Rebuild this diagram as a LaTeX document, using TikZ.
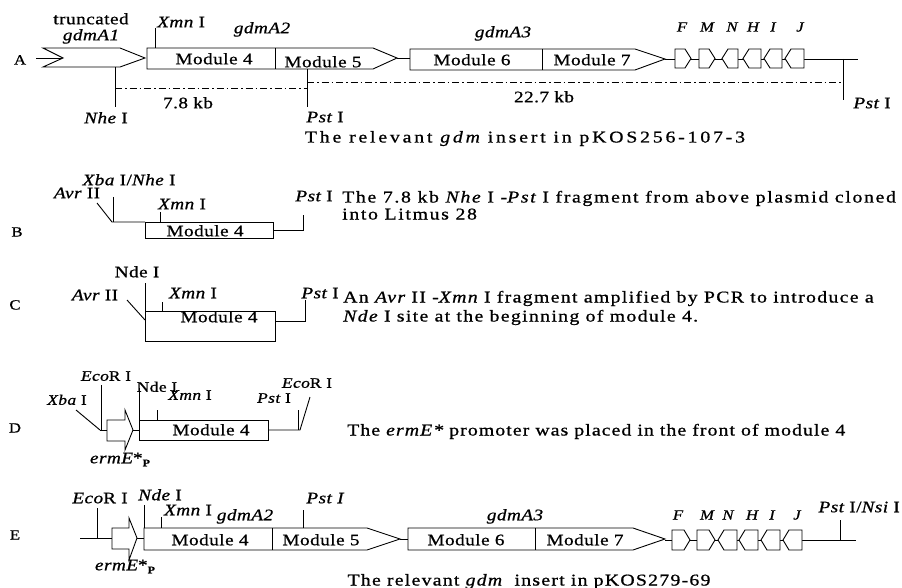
\documentclass[tikz,border=0pt]{standalone}
\usepackage{fontspec}
\setmainfont{Liberation Serif}
\newfontfamily\descfont[FakeStretch=1.2,LetterSpace=10,FakeBold=0.8]{Liberation Serif}
\newfontfamily\descCfont[FakeStretch=1.2,LetterSpace=8,FakeBold=0.8]{Liberation Serif}
\newfontfamily\descDfont[FakeStretch=1.2,LetterSpace=6.5,FakeBold=0.8]{Liberation Serif}
\newfontfamily\capAfont[FakeStretch=1.2,LetterSpace=17,FakeBold=0.8]{Liberation Serif}
\newfontfamily\capEfont[FakeStretch=1.2,LetterSpace=7.5,FakeBold=0.8]{Liberation Serif}
\newfontfamily\labfont[FakeStretch=1.2,LetterSpace=3,FakeBold=0.8]{Liberation Serif}
\newcommand\geneRt[4]{\draw[ln,fill=white] (#1,#3) -- ({#2-6},#3) -- (#2,{(#3+#4)/2}) -- ({#2-6},#4) -- (#1,#4) -- cycle;}
\newcommand\geneLt[4]{\draw[ln,fill=white] (#1,{(#3+#4)/2}) -- ({#1+6},#3) -- (#2,#3) -- (#2,#4) -- ({#1+6},#4) -- cycle;}
\newcommand\ermP{{\itshape ermE}*\raisebox{-3pt}{\fontsize{10}{10}\selectfont\bfseries P}}
\tikzset{
  ln/.style={line width=0.9pt},
  dd/.style={line width=0.9pt, dash pattern=on 7pt off 3pt on 1.5pt off 3pt},
  lab/.style={font=\labfont\fontsize{16}{18}\selectfont, inner sep=0pt, text height=10.5pt, text depth=0pt},
  slab/.style={font=\labfont\fontsize{14.5}{16}\selectfont, inner sep=0pt, text height=9.5pt, text depth=0pt},
  modl/.style={font=\labfont\fontsize{16}{18}\selectfont, inner sep=0pt, text height=10.5pt, text depth=0pt},
  gn/.style={font=\labfont\itshape\fontsize{14}{16}\selectfont, inner sep=0pt, text height=9pt, text depth=0pt},
  rowlab/.style={font=\labfont\fontsize{14}{16}\selectfont, inner sep=0pt, text height=9pt, text depth=0pt},
  dsc/.style={font=\descfont\fontsize{16.5}{18}\selectfont, inner sep=0pt, anchor=west, text height=11pt, text depth=0pt},
}
\begin{document}
\begin{tikzpicture}[x=1pt,y=-1pt]
\useasboundingbox (0,0) rectangle (902,588);
\fill[white] (0,0) rectangle (902,588);

% ================= Row A =================
\node[rowlab] (rA) at (20,60) {A};
\draw[ln] (36,58) -- (63,58);
\draw[ln,fill=white] (43,48) -- (120,48) -- (145,58) -- (120,67) -- (43,67) -- (63,58) -- cycle;
\node[lab] (trunc) at (91,19) {truncated};
\node[lab] (gA1) at (91,35) {\itshape gdmA1};
\draw[ln] (397,58) -- (410,58);
\draw[ln] (665,59) -- (858,59);
\draw[ln,fill=white] (147,48) -- (373,48) -- (397,58) -- (373,69) -- (147,69) -- cycle;
\draw[ln] (275,48) -- (275,69);
\node[modl] (a4) at (214,59) {Module 4};
\node[modl] (a5) at (323,62) {Module 5};
\draw[ln,fill=white] (410,49) -- (635,49) -- (665,59) -- (635,70) -- (410,70) -- cycle;
\draw[ln] (542,49) -- (542,70);
\node[modl] (a6) at (472,60) {Module 6};
\node[modl] (a7) at (592,60) {Module 7};
\node[lab] (gA2) at (262,28) {\itshape gdmA2};
\node[lab] (gA3) at (503,32) {\itshape gdmA3};
\geneRt{675}{691}{49}{68}
\geneRt{699}{715}{49}{68}
\geneLt{722}{738}{49}{68}
\geneLt{743}{761}{49}{68}
\geneLt{764}{782}{49}{68}
\geneLt{785}{804}{49}{68}
\node[gn] at (682,27) {F};
\node[gn] at (707,27) {M};
\node[gn] at (732,27) {N};
\node[gn] at (753,27) {H};
\node[gn] at (773,27) {I};
\node[gn] at (800,27) {J};
\draw[ln] (155,28) -- (155,48);
\node[lab,anchor=west] (xmnA) at (157,22) {{\itshape Xmn} I};
\draw[ln] (115,67) -- (115,107);
\node[lab] (nheA) at (106,118) {{\itshape Nhe} I};
\draw[ln] (307,69) -- (307,107);
\node[lab] (pstA) at (325,117) {{\itshape Pst} I};
\draw[ln] (843,59) -- (843,100);
\node[lab] (pstA2) at (872,103) {{\itshape Pst} I};
\draw[dd] (115,88) -- (307,88);
\node[lab] (kb78) at (188,103) {7.8 kb};
\draw[dd] (307,82) -- (842,82);
\node[lab] (kb227) at (544,97) {22.7 kb};
\node[dsc,anchor=center,font=\capAfont\fontsize{16.5}{18}\selectfont] (capA) at (525,137) {The relevant {\itshape gdm} insert in pKOS256-107-3};

% ================= Row B =================
\node[rowlab] (rB) at (17,232) {B};
\draw[ln] (97,203) -- (112,222) -- (145,222);
\draw[ln] (113,197) -- (113,222);
\draw[ln] (145,222) rectangle (273,238);
\draw[ln] (160,212) -- (160,222);
\draw[ln] (273,230) -- (303,230) -- (303,215);
\node[modl] (b4) at (205,231) {Module 4};
\node[lab] (xbaB) at (129,180) {{\itshape Xba} I/{\itshape Nhe} I};
\node[lab] (avrB) at (77,193) {{\itshape Avr} II};
\node[lab] (xmnB) at (182,204) {{\itshape Xmn} I};
\node[lab] (pstB) at (314,196) {{\itshape Pst} I};
\node[dsc] (dB1) at (342,197) {The 7.8 kb {\itshape Nhe} I -{\itshape Pst} I fragment from above plasmid cloned};
\node[dsc] (dB2) at (342,214) {into Litmus 28};

% ================= Row C =================
\node[rowlab] (rC) at (15,305) {C};
\draw[ln] (145,283) -- (145,311);
\draw[ln] (127,300) -- (145,320);
\draw[ln] (145,311) rectangle (275,341);
\draw[ln] (162,302) -- (162,311);
\draw[ln] (275,321) -- (305,321) -- (305,300);
\node[modl] (c4) at (219,317) {Module 4};
\node[lab] (ndeC) at (137,272) {Nde I};
\node[lab] (avrC) at (95,295) {{\itshape Avr} II};
\node[lab] (xmnC) at (193,293) {{\itshape Xmn} I};
\node[lab] (pstC) at (320,293) {{\itshape Pst} I};
\node[dsc,font=\descCfont\fontsize{16.5}{18}\selectfont] (dC1) at (343,297) {An {\itshape Avr} II -{\itshape Xmn} I fragment amplified by PCR to introduce a};
\node[dsc,font=\descCfont\fontsize{16.5}{18}\selectfont] (dC2) at (343,316) {{\itshape Nde} I site at the beginning of module 4.};

% ================= Row D =================
\node[rowlab] (rD) at (15,428) {D};
\draw[ln] (76,410) -- (100,430);
\draw[ln] (101,385) -- (101,430);
\draw[ln] (100,430) -- (107,430);
\draw[ln,fill=white] (107,420) -- (125,420) -- (125,410) -- (133,430) -- (125,450) -- (125,441) -- (107,441) -- cycle;
\draw[ln] (133,430) -- (139,430);
\draw[ln] (139,388) -- (139,420);
\draw[ln] (157,410) -- (157,420);
\draw[ln] (139,420) rectangle (268,440);
\node[modl] (d4) at (211,430) {Module 4};
\draw[ln] (268,430) -- (300,430) -- (310,397);
\draw[ln] (298,410) -- (298,430);
\node[slab] (xbaD) at (67,400) {{\itshape Xba} I};
\node[slab] (ecoD1) at (106,376) {{\itshape Eco}R I};
\node[slab] (ndeD) at (157,387) {Nde I};
\node[slab] (xmnD) at (190,395) {{\itshape Xmn} I};
\node[slab] (pstD) at (274,398) {{\itshape Pst} I};
\node[slab] (ecoD2) at (307,383) {{\itshape Eco}R I};
\node[lab] (ermD) at (120,458) {\ermP};
\node[dsc,font=\descDfont\fontsize{16.5}{18}\selectfont] (dD) at (347,430) {The {\itshape ermE*} promoter was placed in the front of module 4};

% ================= Row E =================
\node[rowlab] (rE) at (15,535) {E};
\draw[ln] (80,538) -- (112,538);
\draw[ln] (97,508) -- (97,538);
\draw[ln,fill=white] (112,528) -- (129,528) -- (129,518) -- (137,538) -- (129,560) -- (129,549) -- (112,549) -- cycle;
\draw[ln] (137,538) -- (144,538);
\draw[ln] (144,505) -- (144,528);
\draw[ln] (161,517) -- (161,528);
\draw[ln] (400,539) -- (408,539);
\draw[ln] (665,540) -- (856,540);
\draw[ln,fill=white] (144,528) -- (367,528) -- (400,539) -- (367,550) -- (144,550) -- cycle;
\draw[ln] (272,528) -- (272,550);
\draw[ln] (303,510) -- (303,528);
\node[modl] (e4) at (210,540) {Module 4};
\node[modl] (e5) at (321,540) {Module 5};
\draw[ln,fill=white] (408,528) -- (633,528) -- (665,539) -- (633,550) -- (408,550) -- cycle;
\draw[ln] (535,528) -- (535,550);
\node[modl] (e6) at (466,540) {Module 6};
\node[modl] (e7) at (585,540) {Module 7};
\geneRt{672}{690}{530}{550}
\geneRt{697}{715}{530}{550}
\geneLt{718}{737}{530}{550}
\geneLt{739}{758}{530}{550}
\geneLt{761}{780}{530}{550}
\geneLt{783}{802}{530}{550}
\node[gn] at (678,515) {F};
\node[gn] at (707,515) {M};
\node[gn] at (728,515) {N};
\node[gn] at (752,515) {H};
\node[gn] at (772,515) {I};
\node[gn] at (797,515) {J};
\draw[ln] (840,520) -- (840,540);
\node[lab] (ecoE) at (100,498) {{\itshape Eco}R I};
\node[lab] (ndeE) at (160,495) {{\itshape Nde} I};
\node[lab] (xmnE) at (188,510) {{\itshape Xmn} I};
\node[lab] (gE2) at (245,515) {\itshape gdmA2};
\node[lab] (pstE) at (325,498) {\itshape Pst I};
\node[lab] (gE3) at (515,515) {\itshape gdmA3};
\node[lab,anchor=east] (pnE) at (900,507) {{\itshape Pst} I/{\itshape Nsi} I};
\node[lab] (ermE) at (125,565) {\ermP};
\node[dsc,anchor=center,font=\capEfont\fontsize{16.5}{18}\selectfont] (capE) at (529,580) {The relevant {\itshape gdm}\ \ insert in pKOS279-69};
\end{tikzpicture}
\end{document}
